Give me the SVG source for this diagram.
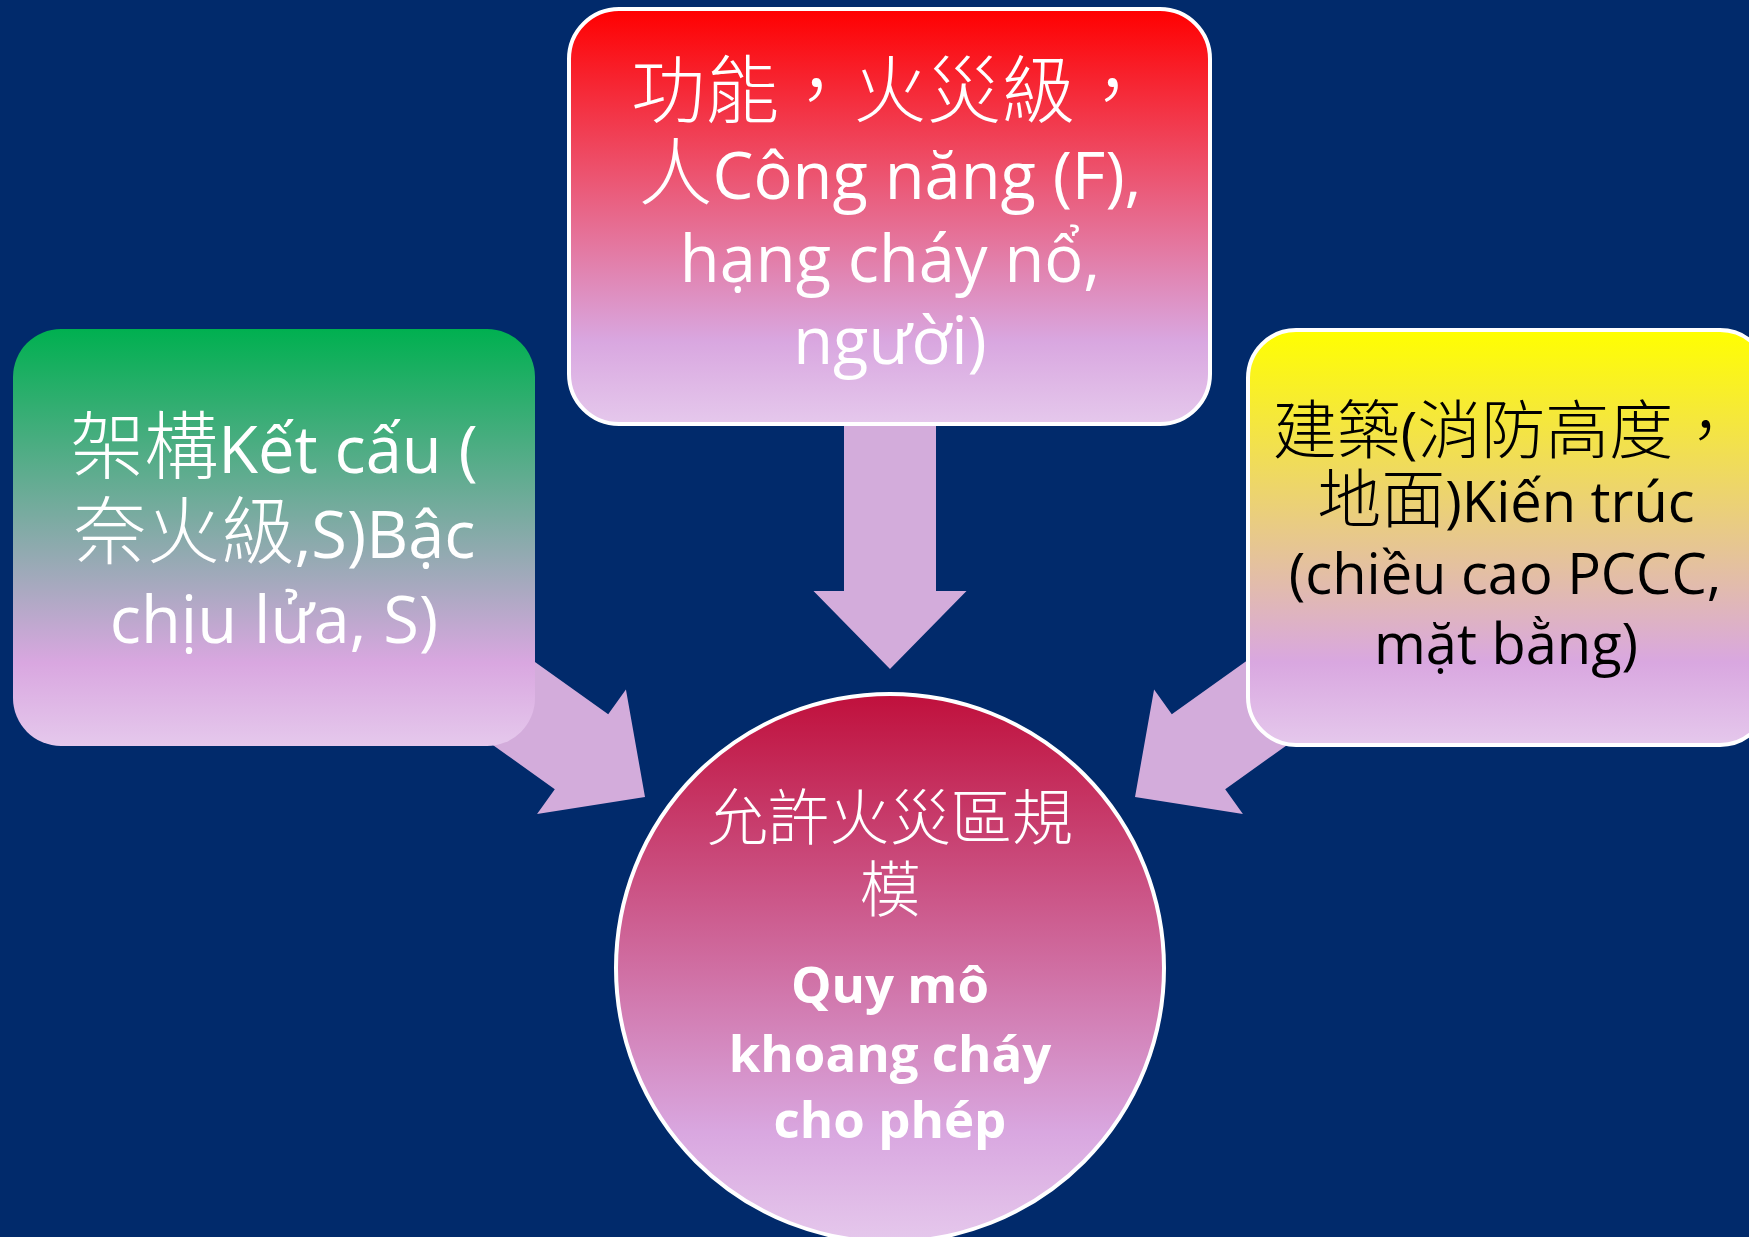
<svg xmlns="http://www.w3.org/2000/svg" width="1749" height="1237" viewBox="0 0 1749 1237">
<style>
.bg{fill:#012A6B}
.arrow{fill:#D3ACDB}
.box-stroke{stroke:#FFFFFF;stroke-width:4}
.t{text-anchor:middle;font-family:"Open Sans","Noto Sans CJK TC",sans-serif}
.cjk{font-family:"Noto Sans CJK TC",sans-serif;font-weight:300}
.w{fill:#FFFFFF}
.k{fill:#000000}
.big{font-size:65px}
.big .cjk{font-size:74px}
.mid{font-size:56px}
.mid .cjk{font-size:64px}
.circ{font-size:61px}
.bold{font-size:51px;font-weight:bold}
</style>
<defs>
<linearGradient id="gGreen" x1="0" y1="0" x2="0" y2="1">
<stop offset="0" stop-color="#00B050"/>
<stop offset="0.8" stop-color="#D9A7E0"/>
<stop offset="1" stop-color="#E5C8EC"/>
</linearGradient>
<linearGradient id="gRed" x1="0" y1="0" x2="0" y2="1">
<stop offset="0" stop-color="#FF0000"/>
<stop offset="0.8" stop-color="#D9A7E0"/>
<stop offset="1" stop-color="#E5C8EC"/>
</linearGradient>
<linearGradient id="gYellow" x1="0" y1="0" x2="0" y2="1">
<stop offset="0" stop-color="#FFFF00"/>
<stop offset="0.8" stop-color="#D9A7E0"/>
<stop offset="1" stop-color="#E5C8EC"/>
</linearGradient>
<linearGradient id="gCircle" x1="0" y1="0" x2="0" y2="1">
<stop offset="0" stop-color="#C0103C"/>
<stop offset="0.8" stop-color="#D9A7E0"/>
<stop offset="1" stop-color="#E5C8EC"/>
</linearGradient>
<path id="blockArrow" d="M0,0 L-78,-76.5 L-78,-46 L-260,-46 L-260,46 L-78,46 L-78,76.5 Z"/>
</defs>
<rect class="bg" x="0" y="0" width="1749" height="1237"/>

<g id="connectors">
<use href="#blockArrow" class="arrow" transform="translate(890,669) rotate(90)"/>
<use href="#blockArrow" class="arrow" transform="translate(645,797) rotate(35.5)"/>
<use href="#blockArrow" class="arrow" transform="translate(1135,797) rotate(144.5)"/>
</g>

<g id="node-function">
<rect x="569" y="9" width="641" height="415" rx="50" fill="url(#gRed)" class="box-stroke"/>
<text class="t w big" x="890" y="117"><tspan class="cjk">功能，火災級，</tspan></text>
<text class="t w big" x="890" y="199"><tspan class="cjk">人</tspan>Công năng (F),</text>
<text class="t w big" x="890" y="282">hạng cháy nổ,</text>
<text class="t w big" x="890" y="364">người)</text>
</g>

<g id="node-structure">
<rect x="13" y="329" width="522" height="417" rx="48" fill="url(#gGreen)"/>
<text class="t w big" x="274" y="473"><tspan class="cjk">架構</tspan>Kết cấu (</text>
<text class="t w big" x="274" y="558"><tspan class="cjk">奈火級</tspan>,S)Bậc</text>
<text class="t w big" x="274" y="643">chịu lửa, S)</text>
</g>

<g id="node-architecture">
<rect x="1248" y="330" width="520" height="415" rx="48" fill="url(#gYellow)" class="box-stroke"/>
<text class="t k mid" x="1505" y="453"><tspan class="cjk">建築</tspan>(<tspan class="cjk">消防高度，</tspan></text>
<text class="t k mid" x="1506" y="522"><tspan class="cjk">地面</tspan>)Kiến trúc</text>
<text class="t k mid" x="1505" y="594">(chiều cao PCCC,</text>
<text class="t k mid" x="1506" y="664">mặt bằng)</text>
</g>

<g id="node-result">
<circle cx="890" cy="968" r="274" fill="url(#gCircle)" class="box-stroke"/>
<text class="t w circ cjk" x="890" y="840">允許火災區規</text>
<text class="t w circ cjk" x="890" y="912">模</text>
<text class="t w bold" x="890" y="1003">Quy mô</text>
<text class="t w bold" x="890" y="1072">khoang cháy</text>
<text class="t w bold" x="890" y="1138">cho phép</text>
</g>
</svg>
